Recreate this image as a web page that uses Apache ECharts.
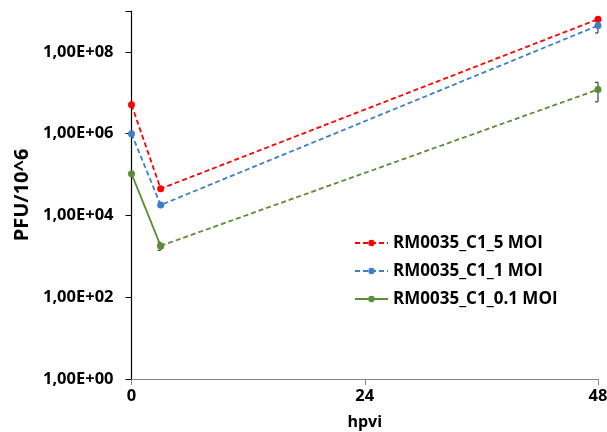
<!DOCTYPE html>
<html>
<head>
<meta charset="utf-8">
<script src="https://cdn.jsdelivr.net/npm/echarts@6/dist/echarts.min.js"></script>
<style>
  html, body { margin: 0; padding: 0; background: #fff; }
  #chart { width: 607px; height: 432px; }
</style>
</head>
<body>
<div id="chart"></div>
<script>
// Time points (hours post virus inoculation)
const hours = [0, 3, 48];
const xTicks = ['0', '24', '48'];
// Titres (PFU) per MOI
const moi5  = [5.1e6, 4.5e4, 6.3e8];
const moi1  = [1.0e6, 1.8e4, 4.4e8];
const moi01 = [1.05e5, 1.8e3, 1.2e7];
// Standard deviations
const err5  = [0, 0, 0];
const err1  = [0, 0, 1.5e8];
const err01 = [0, 4e2, 6e6];
// Y tick labels for exponents 0,2,4,6,8
const yTickLabels = ['1,00E+00', '1,00E+02', '1,00E+04', '1,00E+06', '1,00E+08'];
const names = ['RM0035_C1_5 MOI', 'RM0035_C1_1 MOI', 'RM0035_C1_0.1 MOI'];
const colors = ['#ff0000', '#3f7fc6', '#5b8c36'];

const FONT = '"Open Sans", "Liberation Sans", sans-serif';

function pts(vals) { return hours.map((h, i) => [h, vals[i]]); }

function errData(vals, errs) {
  const out = [];
  hours.forEach((h, i) => { if (errs[i] > 0) out.push([h, vals[i] - errs[i], vals[i] + errs[i]]); });
  return out;
}

function errSeries(vals, errs) {
  return {
    type: 'custom',
    silent: true,
    z: 1,
    data: errData(vals, errs),
    renderItem: function (params, api) {
      const x = api.value(0);
      const lo = api.coord([x, api.value(1)]);
      const hi = api.coord([x, api.value(2)]);
      const cap = 3;
      const st = { stroke: '#404040', lineWidth: 1.2 };
      return {
        type: 'group',
        children: [
          { type: 'line', shape: { x1: lo[0], y1: lo[1], x2: hi[0], y2: hi[1] }, style: st },
          { type: 'line', shape: { x1: lo[0] - cap, y1: lo[1], x2: lo[0], y2: lo[1] }, style: st },
          { type: 'line', shape: { x1: hi[0] - cap, y1: hi[1], x2: hi[0], y2: hi[1] }, style: st }
        ]
      };
    }
  };
}

function lineSeries(name, data, color, dashed) {
  return {
    name: name,
    type: 'line',
    data: data,
    symbol: 'circle',
    symbolSize: 7,
    z: 3,
    itemStyle: { color: color },
    lineStyle: { color: color, width: 1.8, type: dashed ? [5, 3] : 'solid' }
  };
}

const chart = echarts.init(document.getElementById('chart'));
chart.setOption({
  animation: false,
  backgroundColor: '#fff',
  grid: { left: 131.5, right: 9, top: 11, bottom: 53, outerBoundsMode: 'none' },
  legend: {
    data: names,
    orient: 'vertical',
    left: 354,
    top: 233,
    padding: 0,
    itemWidth: 33,
    itemHeight: 8,
    itemGap: 8,
    textStyle: { fontFamily: FONT, fontWeight: 'bold', fontSize: 17, lineHeight: 20, color: '#000' }
  },
  xAxis: {
    type: 'value',
    min: 0, max: 48, interval: 24,
    name: 'hpvi',
    nameLocation: 'middle',
    nameGap: 35,
    nameTextStyle: { fontFamily: FONT, fontWeight: 'bold', fontSize: 16, color: '#000' },
    axisLine: { lineStyle: { color: '#868686', width: 1.2 } },
    axisTick: { show: true, length: 6, lineStyle: { color: '#868686' } },
    axisLabel: {
      fontFamily: FONT, fontWeight: 'bold', fontSize: 16.5, color: '#000', margin: 9,
      formatter: v => xTicks[Math.round(v / 24)]
    },
    splitLine: { show: false }
  },
  yAxis: {
    type: 'log',
    logBase: 10,
    min: 1, max: 1e9, interval: 2,
    name: 'PFU/10^6',
    nameLocation: 'middle',
    nameGap: 99,
    nameRotate: 90,
    nameTextStyle: { fontFamily: FONT, fontWeight: 'bold', fontSize: 20, color: '#000' },
    axisLine: { show: true, onZero: false, lineStyle: { color: '#000', width: 1.2 } },
    axisTick: { show: true, length: 6, lineStyle: { color: '#000' } },
    axisLabel: {
      fontFamily: FONT, fontWeight: 'bold', fontSize: 16.5, color: '#000', margin: 18,
      formatter: v => {
        const e = Math.round(Math.log10(v));
        return e % 2 === 0 && e <= 8 ? yTickLabels[e / 2] : '';
      }
    },
    splitLine: { show: false }
  },
  series: [
    errSeries(moi5, err5),
    errSeries(moi1, err1),
    errSeries(moi01, err01),
    lineSeries(names[0], pts(moi5), colors[0], true),
    lineSeries(names[1], pts(moi1), colors[1], true),
    lineSeries(names[2], pts(moi01).slice(0, 2), colors[2], false),
    Object.assign(lineSeries('', pts(moi01).slice(1), colors[2], true), { name: names[2] + ' ' })
  ]
});
</script>
</body>
</html>
